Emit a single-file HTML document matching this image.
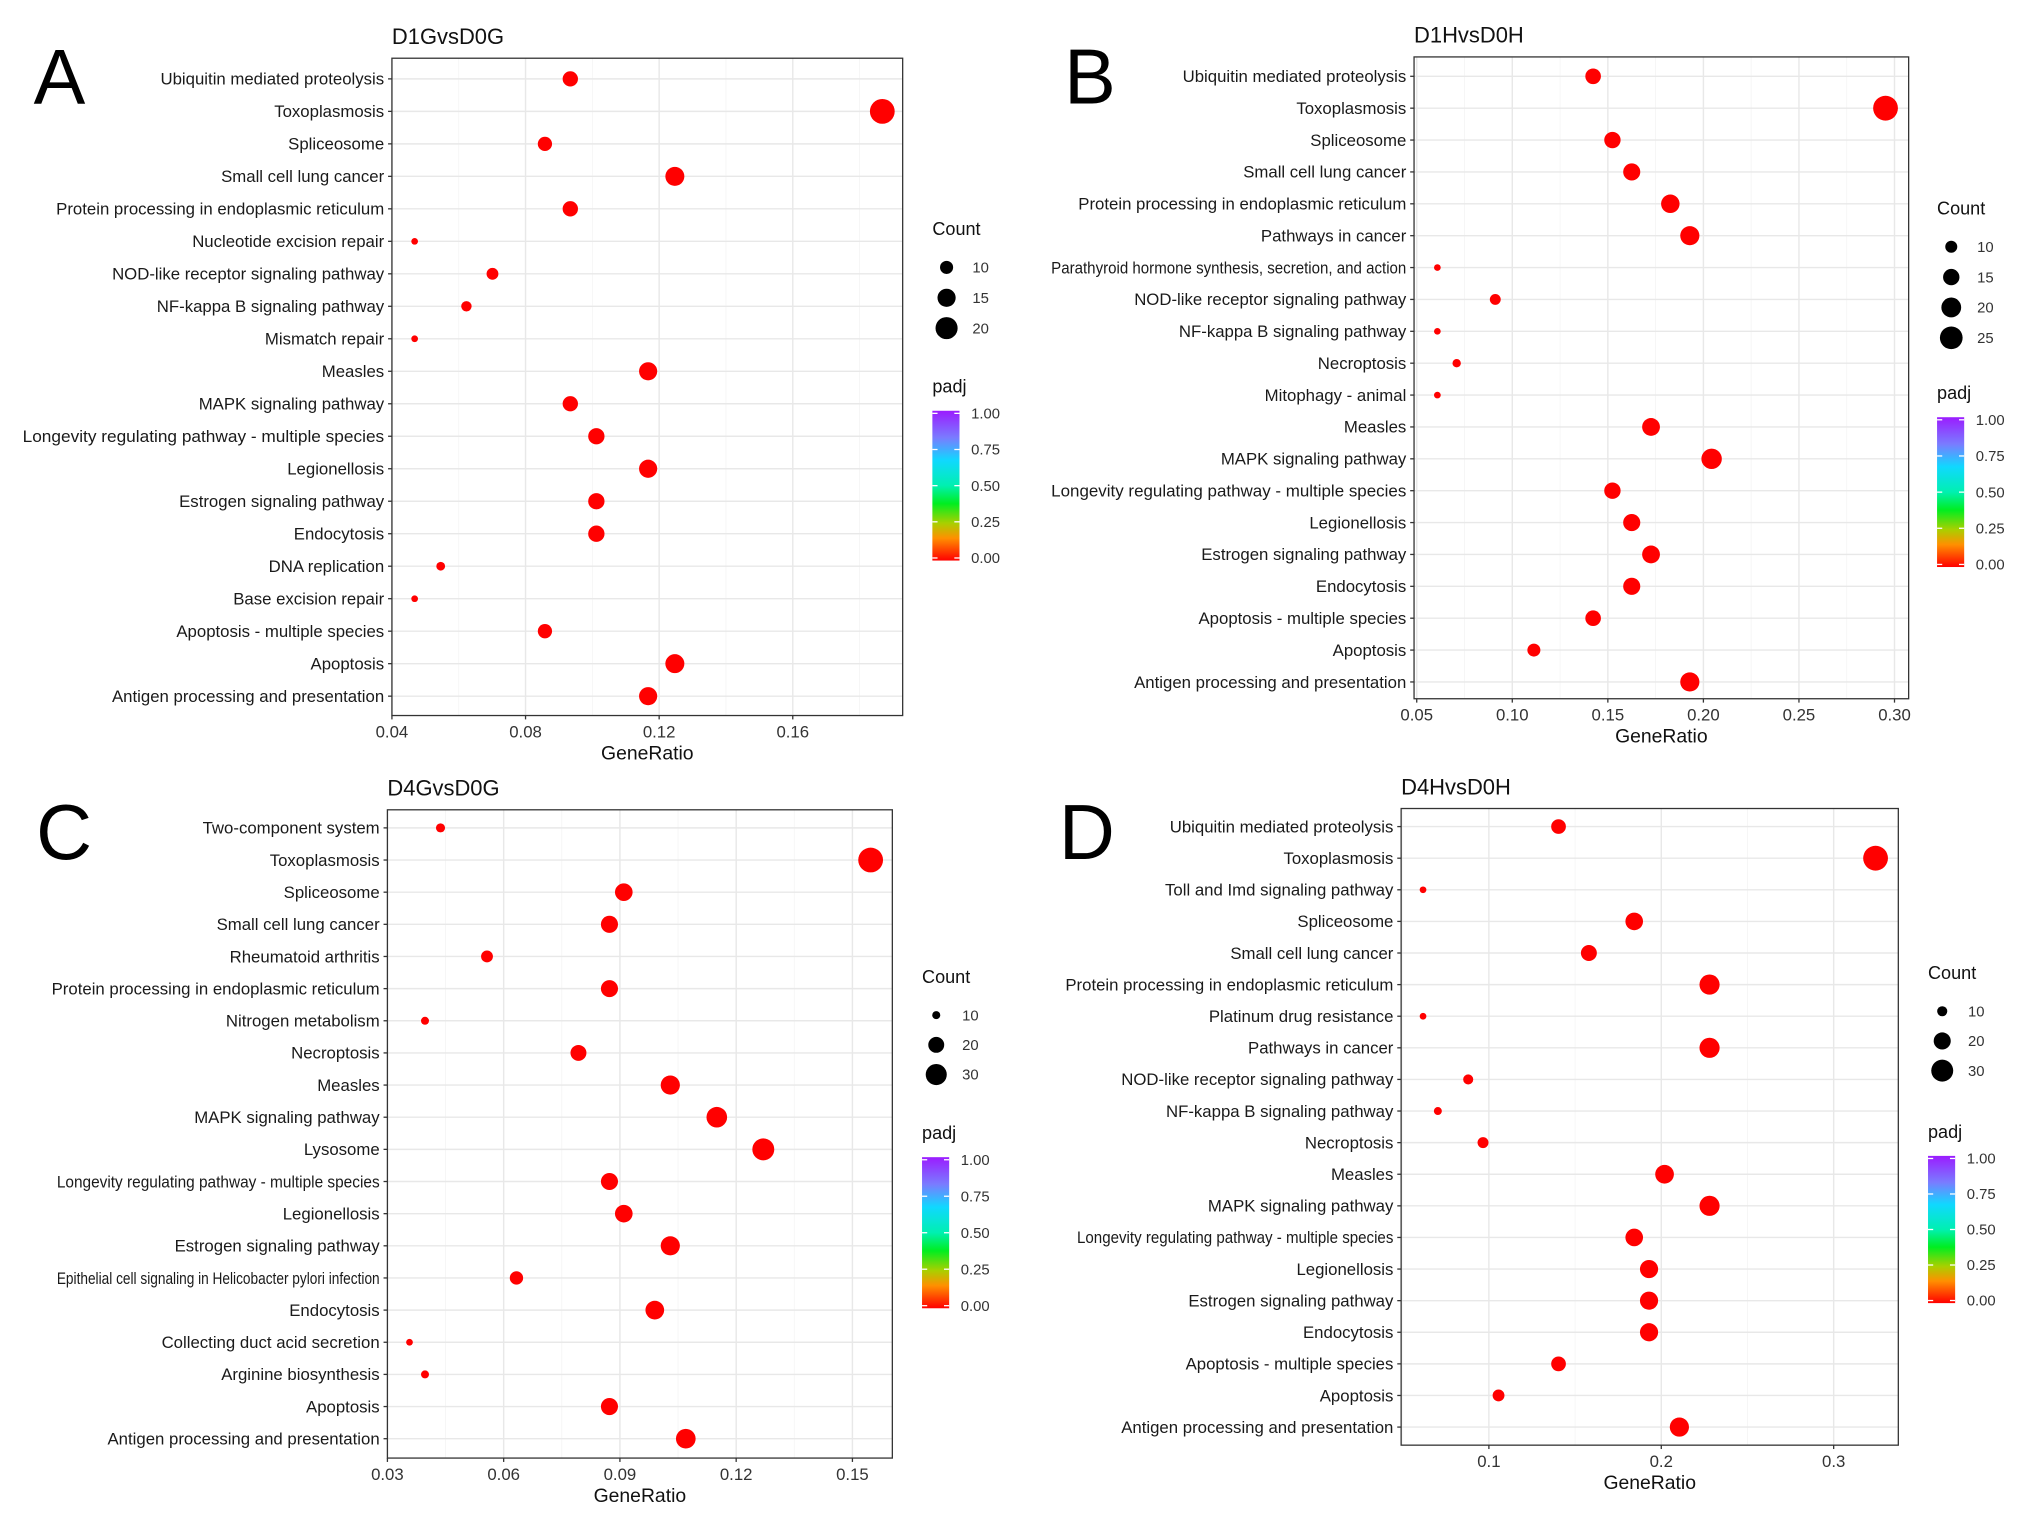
<!DOCTYPE html>
<html><head><meta charset="utf-8"><style>
html,body{margin:0;padding:0;background:#fff;}
svg{display:block;font-family:"Liberation Sans",Arial,sans-serif;}
</style></head><body>
<svg id="fig" width="2021" height="1515" viewBox="0 0 1565 1173" xmlns="http://www.w3.org/2000/svg">
<defs>
<linearGradient id="padjGrad" x1="0" y1="0" x2="0" y2="1">
<stop offset="0" stop-color="#9b1cff"/><stop offset="0.18" stop-color="#7a7cff"/><stop offset="0.33" stop-color="#10d8ff"/>
<stop offset="0.5" stop-color="#00f0b0"/><stop offset="0.62" stop-color="#00ee20"/><stop offset="0.75" stop-color="#a8d000"/>
<stop offset="0.85" stop-color="#ff9000"/><stop offset="1" stop-color="#ff0000"/>
</linearGradient>
</defs>
</svg>
<script>
// ---- Panel A data ----
const catsA = ["Ubiquitin mediated proteolysis","Toxoplasmosis","Spliceosome","Small cell lung cancer","Protein processing in endoplasmic reticulum","Nucleotide excision repair","NOD-like receptor signaling pathway","NF-kappa B signaling pathway","Mismatch repair","Measles","MAPK signaling pathway","Longevity regulating pathway - multiple species","Legionellosis","Estrogen signaling pathway","Endocytosis","DNA replication","Base excision repair","Apoptosis - multiple species","Apoptosis","Antigen processing and presentation"];
const ratioA = [0.0934,0.1868,0.0858,0.1247,0.0934,0.0468,0.0701,0.0623,0.0468,0.1167,0.0934,0.1012,0.1167,0.1012,0.1012,0.0546,0.0468,0.0858,0.1247,0.1167];
const countA = [12,24,11,16,12,6,9,8,6,15,12,13,15,13,13,7,6,11,16,15];
const ticksA = [0.04,0.08,0.12,0.16];
const tickLabA = ["0.04","0.08","0.12","0.16"];
const legendA = [10,15,20];
// ---- Panel B data ----
const catsB = ["Ubiquitin mediated proteolysis","Toxoplasmosis","Spliceosome","Small cell lung cancer","Protein processing in endoplasmic reticulum","Pathways in cancer","Parathyroid hormone synthesis, secretion, and action","NOD-like receptor signaling pathway","NF-kappa B signaling pathway","Necroptosis","Mitophagy - animal","Measles","MAPK signaling pathway","Longevity regulating pathway - multiple species","Legionellosis","Estrogen signaling pathway","Endocytosis","Apoptosis - multiple species","Apoptosis","Antigen processing and presentation"];
const ratioB = [0.1423,0.2953,0.1524,0.1625,0.1827,0.1929,0.0608,0.0911,0.0608,0.0709,0.0608,0.1726,0.2043,0.1524,0.1625,0.1726,0.1625,0.1423,0.1113,0.1929];
const countB = [14,29,15,16,18,19,6,9,6,7,6,17,21,15,16,17,16,14,11,19];
const ticksB = [0.05,0.10,0.15,0.20,0.25,0.30];
const tickLabB = ["0.05","0.10","0.15","0.20","0.25","0.30"];
const legendB = [10,15,20,25];
// ---- Panel C data ----
const catsC = ["Two-component system","Toxoplasmosis","Spliceosome","Small cell lung cancer","Rheumatoid arthritis","Protein processing in endoplasmic reticulum","Nitrogen metabolism","Necroptosis","Measles","MAPK signaling pathway","Lysosome","Longevity regulating pathway - multiple species","Legionellosis","Estrogen signaling pathway","Epithelial cell signaling in Helicobacter pylori infection","Endocytosis","Collecting duct acid secretion","Arginine biosynthesis","Apoptosis","Antigen processing and presentation"];
const ratioC = [0.0437,0.1547,0.091,0.0873,0.0557,0.0873,0.0397,0.0793,0.103,0.115,0.127,0.0873,0.091,0.103,0.0633,0.099,0.0357,0.0397,0.0873,0.107];
const countC = [11,39,23,22,14,22,10,20,26,29,32,22,23,26,16,25,9,10,22,27];
const ticksC = [0.03,0.06,0.09,0.12,0.15];
const tickLabC = ["0.03","0.06","0.09","0.12","0.15"];
const legendC = [10,20,30];
// ---- Panel D data ----
const catsD = ["Ubiquitin mediated proteolysis","Toxoplasmosis","Toll and Imd signaling pathway","Spliceosome","Small cell lung cancer","Protein processing in endoplasmic reticulum","Platinum drug resistance","Pathways in cancer","NOD-like receptor signaling pathway","NF-kappa B signaling pathway","Necroptosis","Measles","MAPK signaling pathway","Longevity regulating pathway - multiple species","Legionellosis","Estrogen signaling pathway","Endocytosis","Apoptosis - multiple species","Apoptosis","Antigen processing and presentation"];
const ratioD = [0.1404,0.3243,0.0618,0.1843,0.158,0.228,0.0618,0.228,0.088,0.0704,0.0966,0.2019,0.228,0.1843,0.1929,0.1929,0.1929,0.1404,0.1056,0.2105];
const countD = [16,37,7,21,18,26,7,26,10,8,11,23,26,21,22,22,22,16,12,24];
const ticksD = [0.1,0.2,0.3];
const tickLabD = ["0.1","0.2","0.3"];
const legendD = [10,20,30];
const padjTicks = [1.00,0.75,0.50,0.25,0.00];
const padjLabels = ["1.00","0.75","0.50","0.25","0.00"];

const NS="http://www.w3.org/2000/svg";
const svg=document.getElementById('fig');
function mk(tag,attrs,parent,text){const e=document.createElementNS(NS,tag);for(const k in attrs)e.setAttribute(k,attrs[k]);if(text!==undefined)e.textContent=text;(parent||svg).appendChild(e);return e;}

function panel(cfg){
  const g=mk('g',{});
  
  
  const {x0,x1,y0,y1,dmin,dmax,r0,rN}=cfg;
  const xs=v=>x0+(v-dmin)/(dmax-dmin)*(x1-x0);
  const n=cfg.cats.length;
  const ys=i=>r0+i*(rN-r0)/(n-1);
  const cmin=Math.min(...cfg.counts),cmax=Math.max(...cfg.counts);
  const rmin=2.6,rmax=9.6;
  const rs=c=>Math.sqrt(Math.max(0.5,rmin*rmin+(c-cmin)/(cmax-cmin)*(rmax*rmax-rmin*rmin)));
  mk('rect',{x:x0,y:y0,width:x1-x0,height:y1-y0,fill:'#fff'},g);
  const t=cfg.ticks, step=t[1]-t[0];
  for(let k=-1;k<t.length;k++){const v=t[0]+step*(k+0.5);const x=xs(v);if(x>x0&&x<x1)mk('line',{x1:x,x2:x,y1:y0,y2:y1,stroke:'#f4f4f4','stroke-width':0.6},g);}
  t.forEach(v=>{const x=xs(v);mk('line',{x1:x,x2:x,y1:y0,y2:y1,stroke:'#e8e8e8','stroke-width':1.1},g);});
  cfg.cats.forEach((c,i)=>{const y=ys(i);mk('line',{x1:x0,x2:x1,y1:y,y2:y,stroke:'#e8e8e8','stroke-width':1.1},g);});
  mk('rect',{x:x0,y:y0,width:x1-x0,height:y1-y0,fill:'none',stroke:'#333','stroke-width':1},g);
  cfg.cats.forEach((c,i)=>{const y=ys(i);
    mk('line',{x1:x0-3,x2:x0,y1:y,y2:y,stroke:'#333','stroke-width':1},g);
    const attrs={x:x0-6,y:y+4.5,'text-anchor':'end','font-size':13,fill:'#1a1a1a'};
    if(c.length>44){attrs.textLength=cfg.longLen;attrs.lengthAdjust='spacingAndGlyphs';attrs['font-size']=12.6;}
    const tx=mk('text',attrs,g,c);
    
    
  });
  t.forEach((v,i)=>{const x=xs(v);
    mk('line',{x1:x,x2:x,y1:y1,y2:y1+3,stroke:'#333','stroke-width':1},g);
    const tx=mk('text',{x:x,y:y1+17,'text-anchor':'middle','font-size':13,fill:'#333'},g,cfg.tickLab[i]);
    
    
  });
  const xt=mk('text',{x:(x0+x1)/2,y:y1+34,'text-anchor':'middle','font-size':15,fill:'#111'},g,'GeneRatio');
  
  
  const tt=mk('text',{x:x0,y:y0-11,'font-size':17,fill:'#111'},g,cfg.title);
  
  
  const lt=mk('text',{x:cfg.lx,y:cfg.ly,'font-size':60,fill:'#000'},g,cfg.id);
  
  
  cfg.cats.forEach((c,i)=>{
    const p=mk('circle',{cx:xs(cfg.ratio[i]),cy:ys(i),r:rs(cfg.counts[i]),fill:'#ff0000'},g);
    
    
  });
  const L=cfg.leg;
  const ct=mk('text',{x:L.x,y:L.cy,'font-size':14,fill:'#111'},g,'Count');
  
  
  cfg.legend.forEach((c,i)=>{const y=L.cy+25+i*L.gap;
    const e=mk('circle',{cx:L.x+11,cy:y,r:rs(c),fill:'#000'},g);
    
    
    mk('text',{x:L.x+31,y:y+4,'font-size':11.5,fill:'#333'},g,String(c));
  });
  const pt=mk('text',{x:L.x,y:L.py,'font-size':14,fill:'#111'},g,'padj');
  
  
  const bt=L.py+14,bb=bt+L.bh;
  const bar=mk('rect',{x:L.x,y:bt,width:21,height:L.bh,fill:'url(#padjGrad)'},g);
  
  
  padjTicks.forEach((v,i)=>{const y=bb-v*(L.bh-4)-2;
    mk('line',{x1:L.x,x2:L.x+4,y1:y,y2:y,stroke:'#fff','stroke-width':1},g);
    mk('line',{x1:L.x+17,x2:L.x+21,y1:y,y2:y,stroke:'#fff','stroke-width':1},g);
    mk('text',{x:L.x+30,y:y+4,'font-size':11.5,fill:'#333'},g,padjLabels[i]);
  });
}

panel({id:'A',title:'D1GvsD0G',cats:catsA,ratio:ratioA,counts:countA,ticks:ticksA,tickLab:tickLabA,legend:legendA,
  x0:303.5,x1:699,y0:45,y1:554,dmin:0.04,dmax:0.1929,r0:61,rN:539,lx:26,ly:80,longLen:280,
  leg:{x:722,cy:182,gap:23.5,py:304,bh:116}});
panel({id:'B',title:'D1HvsD0H',cats:catsB,ratio:ratioB,counts:countB,ticks:ticksB,tickLab:tickLabB,legend:legendB,
  x0:1095,x1:1478,y0:44,y1:541,dmin:0.0486,dmax:0.3074,r0:59,rN:528,lx:824,ly:80,longLen:275,
  leg:{x:1500,cy:166,gap:23.5,py:309,bh:116}});
panel({id:'C',title:'D4GvsD0G',cats:catsC,ratio:ratioC,counts:countC,ticks:ticksC,tickLab:tickLabC,legend:legendC,
  x0:300,x1:691,y0:627,y1:1129,dmin:0.03,dmax:0.1603,r0:641,rN:1114,lx:28,ly:665,longLen:250,
  leg:{x:714,cy:761,gap:23,py:882,bh:117}});
panel({id:'D',title:'D4HvsD0H',cats:catsD,ratio:ratioD,counts:countD,ticks:ticksD,tickLab:tickLabD,legend:legendD,
  x0:1085,x1:1470,y0:626,y1:1119,dmin:0.0491,dmax:0.3375,r0:640,rN:1105,lx:820,ly:665,longLen:245,
  leg:{x:1493,cy:758,gap:23,py:881,bh:114}});
</script>
</body></html>
